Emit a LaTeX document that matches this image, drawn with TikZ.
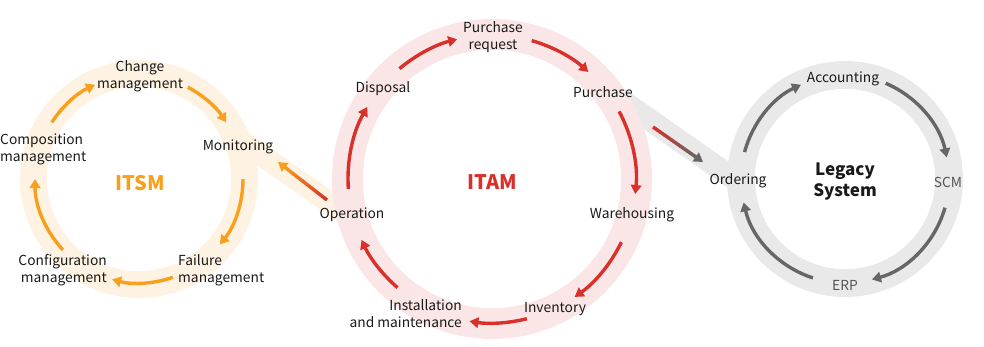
\documentclass[tikz,border=0pt]{standalone}
\usepackage{fontspec}
\setmainfont{Noto Sans CJK KR}
\usepackage{xcolor}
\usetikzlibrary{arrows.meta,calc}
\definecolor{ink}{HTML}{1A1A1A}
\definecolor{itsmfill}{HTML}{FEF3E2}
\definecolor{itsmline}{HTML}{F8A01C}
\definecolor{itamfill}{HTML}{FBE6E7}
\definecolor{itamline}{HTML}{D9302A}
\definecolor{legfill}{HTML}{E9E9E9}
\definecolor{legline}{HTML}{666666}
\definecolor{legtext}{HTML}{555555}

\begin{document}
\begin{tikzpicture}[x=1pt,y=1pt, every node/.style={font=\fontsize{13.8}{17}\selectfont,text=ink,inner sep=0pt,align=center}, ttl/.style={font=\fontsize{20}{21}\selectfont\bfseries}, arr/.style={-{Triangle[length=9pt,width=10.5pt]},line width=3.4pt}, band/.style={line width=22pt}]
\useasboundingbox (0,-346) rectangle (984,0);
\coordinate (itsm) at (139,-179);\coordinate (itam) at (492,-179);\coordinate (leg) at (845,-179);
\coordinate (b1) at (210,-119);\coordinate (b2) at (350,-217);\coordinate (b3) at (600,-85);\coordinate (b4) at (760,-197);
\draw[band,itsmfill] (b1)--(b2);\draw[band,legfill] (b3)--(b4);
\draw[line width=27pt,itsmfill] (itsm) circle[radius=105.5pt];
\draw[line width=31pt,itamfill] (itam) circle[radius=144.5pt];
\draw[line width=28pt,legfill] (leg) circle[radius=104pt];
\fill[white] (itsm) circle[radius=92pt];\fill[white] (itam) circle[radius=129pt];\fill[white] (leg) circle[radius=90pt];
\foreach \a/\b in {147/115,62/33,0/-39,-71/-105,-137/-180}
  \draw[arr,itsmline] ([shift=(\a:104pt)]itsm) arc[start angle=\a,end angle=\b,radius=104pt];
\foreach \a/\b in {130/104,74/48,28/-6,-26/-55,-76/-99,-131/-155,184/150}
  \draw[arr,itamline] ([shift=(\a:144pt)]itam) arc[start angle=\a,end angle=\b,radius=144pt];
\foreach \a/\b in {165/115,67/12,-16/-75,-108/-167}
  \draw[arr,legline] ([shift=(\a:104pt)]leg) arc[start angle=\a,end angle=\b,radius=104pt];
\coordinate (op1) at (327,-200);\coordinate (mon1) at (278,-162);
\coordinate (pur1) at (653,-127);\coordinate (ord1) at (703,-162);
\foreach \i [evaluate=\i as \p using {int(100-\i*100/19)}] in {0,...,19}{
  \draw[line width=3.4pt,itamline!\p!itsmline] ($(op1)!\i/22!(mon1)$)--($(op1)!\i/22+1.2/22!(mon1)$);
  \draw[line width=3.4pt,itamline!\p!legline] ($(pur1)!\i/22!(ord1)$)--($(pur1)!\i/22+1.2/22!(ord1)$);}
\draw[arr,itsmline] ($(op1)!0.86!(mon1)$)--(mon1);
\draw[arr,legline] ($(pur1)!0.86!(ord1)$)--(ord1);
\node (chg) at (140,-76) {Change\\management};
\node (mon) at (238,-147) {Monitoring};
\node[anchor=west,align=left] (fail) at (178,-270) {Failure\\management};
\node[anchor=east,align=right] (conf) at (107,-270) {Configuration\\management};
\node[anchor=west,align=left] (comp) at (0,-149.5) {Composition\\management};
\node[ttl,text=itsmline] (itsmt) at (140,-183) {ITSM};
\node (preq) at (493,-37) {Purchase\\request};
\node (pur) at (603,-92) {Purchase};
\node (ware) at (632,-215) {Warehousing};
\node (inv) at (555,-309) {Inventory};
\node[anchor=east,align=right] (inst) at (462,-313.5) {Installation\\and maintenance};
\node (op) at (352,-215) {Operation};
\node (disp) at (383,-89) {Disposal};
\node[ttl,text=itamline] (itamt) at (492,-182) {ITAM};
\node (acc) at (843,-79) {Accounting};
\node[text=legtext] (scm) at (948,-182) {SCM};
\node[text=legtext] (erp) at (845,-285) {ERP};
\node (ord) at (738,-181) {Ordering};
\node[ttl,font=\fontsize{17}{21}\selectfont\bfseries] (legt) at (845,-182) {Legacy\\System};
\end{tikzpicture}
\end{document}
